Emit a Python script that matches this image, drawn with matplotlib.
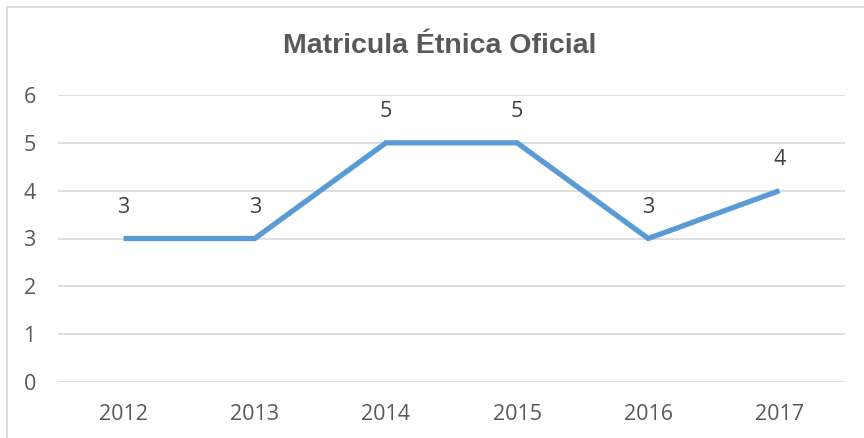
import matplotlib.pyplot as plt
from matplotlib.patches import Rectangle

years = ["2012", "2013", "2014", "2015", "2016", "2017"]
values = [3, 3, 5, 5, 3, 4]
yticks = [0, 1, 2, 3, 4, 5, 6]

W, H = 864, 438
fig = plt.figure(figsize=(W / 100, H / 100), dpi=100)
fig.patch.set_facecolor("white")

# outer chart border (cropped on right/bottom)
fig.patches.append(Rectangle((6.5 / W, -0.1), 1.2, 1 - 7.5 / H + 0.1,
                             transform=fig.transFigure, fill=False,
                             edgecolor="#D9D9D9", linewidth=1.3))

ax = fig.add_axes([58 / W, 1 - 382 / H, (845 - 58) / W, (382 - 95) / H])
x = list(range(len(years)))
ax.plot(x, values, color="#5B9BD5", linewidth=3.8, solid_capstyle="butt",
        solid_joinstyle="miter", zorder=3)

for xi, v in zip(x, values):
    ax.annotate(str(v), (xi, v), xytext=(0, 31), textcoords="offset pixels",
                ha="center", va="center", fontsize=15.5,
                family="Open Sans", color="#404040")

ax.set_xlim(-0.5, len(years) - 0.5)
ax.set_ylim(0, 6)
ax.set_yticks(yticks)
ax.set_xticks(x)
ax.set_xticklabels(years)
ax.grid(axis="y", color="#D9D9D9", linewidth=1.2)
ax.set_axisbelow(True)
for s in ax.spines.values():
    s.set_visible(False)
ax.tick_params(length=0, labelsize=15.5, colors="#595959", pad=0)
ax.tick_params(axis="y", pad=16)
ax.tick_params(axis="x", pad=16)
for lab in ax.get_xticklabels() + ax.get_yticklabels():
    lab.set_family("Open Sans")

fig.text(440 / W, 1 - 46 / H, "Matricula Étnica Oficial", ha="center",
         va="center", fontsize=20.5, fontweight="bold",
         family="Liberation Sans", color="#595959")

fig.savefig("out.png", dpi=100)
